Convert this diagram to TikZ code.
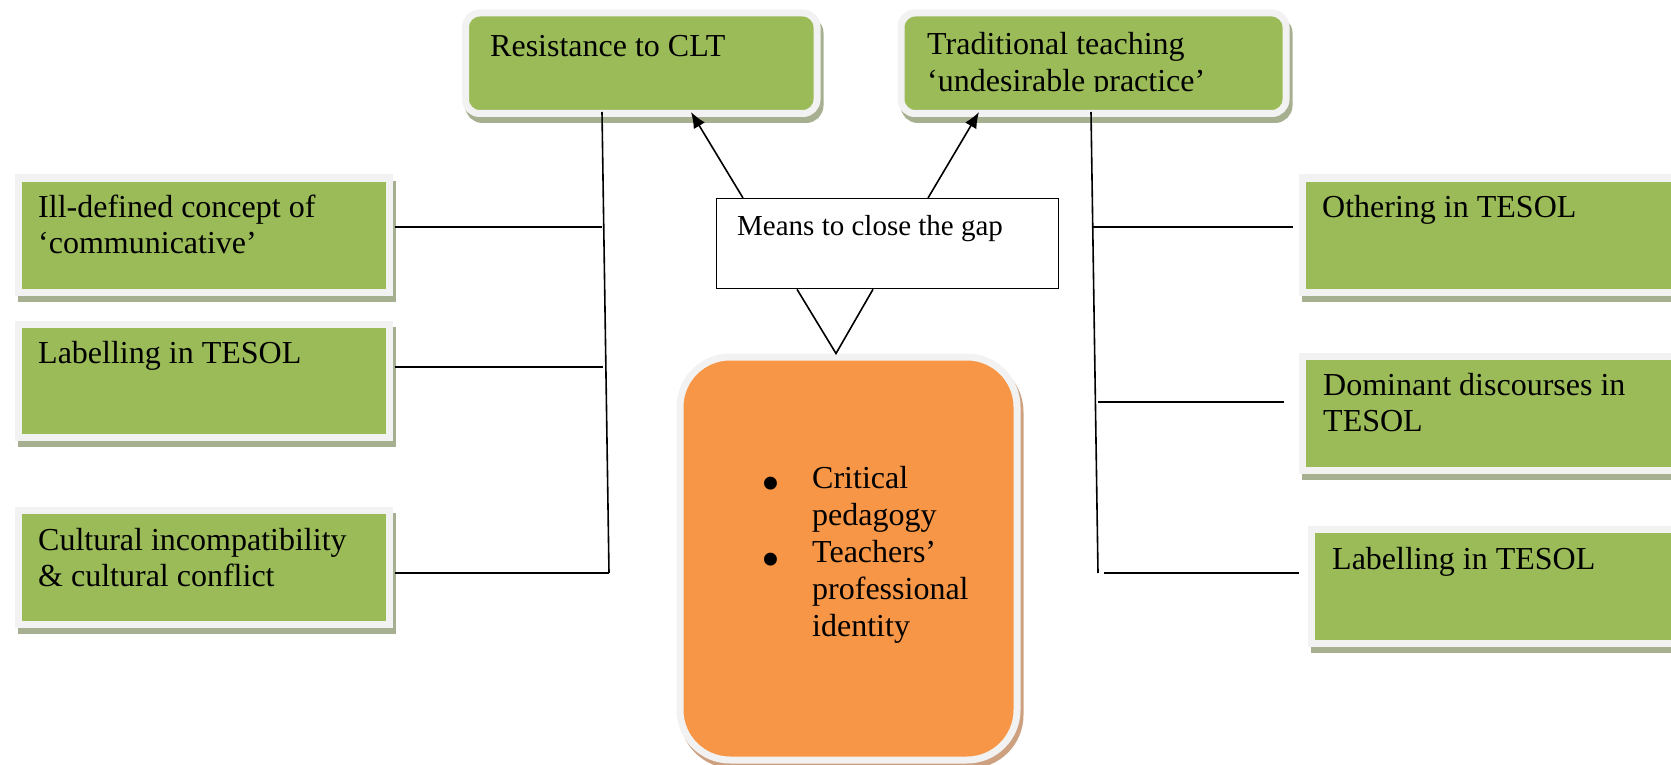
\documentclass[tikz,border=0pt]{standalone}
\usepackage{fontspec}
\setmainfont{Liberation Serif}
\usetikzlibrary{shadows,arrows.meta,calc}
\definecolor{gfill}{HTML}{9BBB59}
\definecolor{ofill}{HTML}{F79646}
\definecolor{wborder}{HTML}{F2F2F2}
\definecolor{gshadow}{HTML}{A6AF8F}
\definecolor{oshadow}{HTML}{CDA180}
\tikzset{
  x=1pt, y=-1pt,
  gbox/.style={rectangle, draw=wborder, fill=gfill, line width=7pt, inner sep=0pt, anchor=north west,
    drop shadow={shadow xshift=3pt, shadow yshift=-6pt, fill=gshadow, draw=gshadow, line width=7pt, opacity=1}},
  rbox/.style={gbox, rounded corners=14pt},
  obox/.style={rectangle, draw=wborder, fill=ofill, line width=7pt, inner sep=0pt, anchor=north west, rounded corners=50pt,
    drop shadow={shadow xshift=3pt, shadow yshift=-5pt, fill=oshadow, draw=oshadow, line width=7pt, opacity=1}},
  mbox/.style={rectangle, draw=black, fill=white, line width=1.3pt, inner sep=0pt, anchor=north west},
  txt/.style={inner sep=0pt, anchor=base west, align=left, font=\fontsize{32}{36.8}\selectfont},
  bul/.style={inner sep=0pt, anchor=center, font=\fontsize{54}{54}\selectfont},
  conn/.style={draw=black, line width=1.6pt},
  arr/.style={conn, -{Latex[length=16pt,width=13pt]}}
}
\begin{document}
\begin{tikzpicture}
\useasboundingbox (0,0) rectangle (1671,765);
% boxes
\node[rbox, minimum width=351.5pt, minimum height=100.5pt] (res) at (462,9.5) {};
\node[rbox, minimum width=385pt, minimum height=100.5pt] (trad) at (897.5,9.5) {};
\node[gbox, minimum width=371pt, minimum height=114pt] (ill) at (14.5,174.5) {};
\node[gbox, minimum width=371pt, minimum height=113pt] (labl) at (14.5,320.5) {};
\node[gbox, minimum width=371pt, minimum height=114pt] (cult) at (14.5,507) {};
\node[gbox, minimum width=400pt, minimum height=114pt] (oth) at (1299,174.5) {};
\node[gbox, minimum width=400pt, minimum height=114pt] (dom) at (1299,352.5) {};
\node[gbox, minimum width=400pt, minimum height=114pt] (labr) at (1308,525.5) {};
\node[obox, minimum width=337pt, minimum height=403pt] (crit) at (676.5,353.5) {};
\node[mbox, minimum width=342pt, minimum height=90pt] (means) at (716,198) {};
% texts (base anchor = baseline of the last line)
\node[txt] (tres) at (490,57) {Resistance to CLT};
\begin{scope}
\clip (890,0) rectangle (1290,92);
\node[txt] (ttrad) at (927,91.8) {Traditional teaching\\‘undesirable practice’};
\end{scope}
\node[txt] (till) at (38,253.8) {Ill-defined concept of\\‘communicative’};
\node[txt] (tlabl) at (38,363) {Labelling in TESOL};
\node[txt] (tcult) at (38,586.8) {Cultural incompatibility\\\& cultural conflict};
\node[txt] (toth) at (1322,217) {Othering in TESOL};
\node[txt] (tdom) at (1323,431.8) {Dominant discourses in\\TESOL};
\node[txt] (tlabr) at (1332,569) {Labelling in TESOL};
\node[txt, font=\fontsize{29}{34}\selectfont] (tmeans) at (737,235) {Means to close the gap};
\node[bul] (b1) at (771,489) {\textbullet};
\node[bul] (b2) at (771,565) {\textbullet};
\node[txt, font=\fontsize{32}{37}\selectfont] (tcrit) at (812,636) {Critical\\pedagogy\\Teachers’\\professional\\identity};
% connector points
\coordinate (m1) at ($(means.north west)+(27,0)$);
\coordinate (m2) at ($(means.north west)+(212,0)$);
\coordinate (a1) at (691,112);
\coordinate (a2) at (979,112);
\draw[arr] (m1) -- (a1);
\draw[arr] (m2) -- (a2);
\coordinate (v1) at ($(means.south west)+(81,0)$);
\coordinate (v2) at ($(means.south west)+(157,0)$);
\coordinate (vt) at (836,353.5);
\draw[conn] (v1) -- (vt) -- (v2);
% left spine
\coordinate (ls1) at (602,112);
\coordinate (ls2) at (609,573);
\draw[conn] (ls1) -- (ls2);
\coordinate (l1) at (395,227);
\coordinate (l1e) at (602,227);
\coordinate (l2) at (395,367);
\coordinate (l2e) at (603,367);
\coordinate (l3) at (395,573);
\draw[conn] (l1) -- (l1e);
\draw[conn] (l2) -- (l2e);
\draw[conn] (l3) -- (ls2);
% right spine
\coordinate (rs1) at (1091,112);
\coordinate (rs2) at (1098,573);
\draw[conn] (rs1) -- (rs2);
\coordinate (r1) at (1092,227);
\coordinate (r1e) at (1293,227);
\coordinate (r2) at (1098,402);
\coordinate (r2e) at (1284,402);
\coordinate (r3) at (1104,573);
\coordinate (r3e) at (1299,573);
\draw[conn] (r1) -- (r1e);
\draw[conn] (r2) -- (r2e);
\draw[conn] (r3) -- (r3e);
\end{tikzpicture}
\end{document}
